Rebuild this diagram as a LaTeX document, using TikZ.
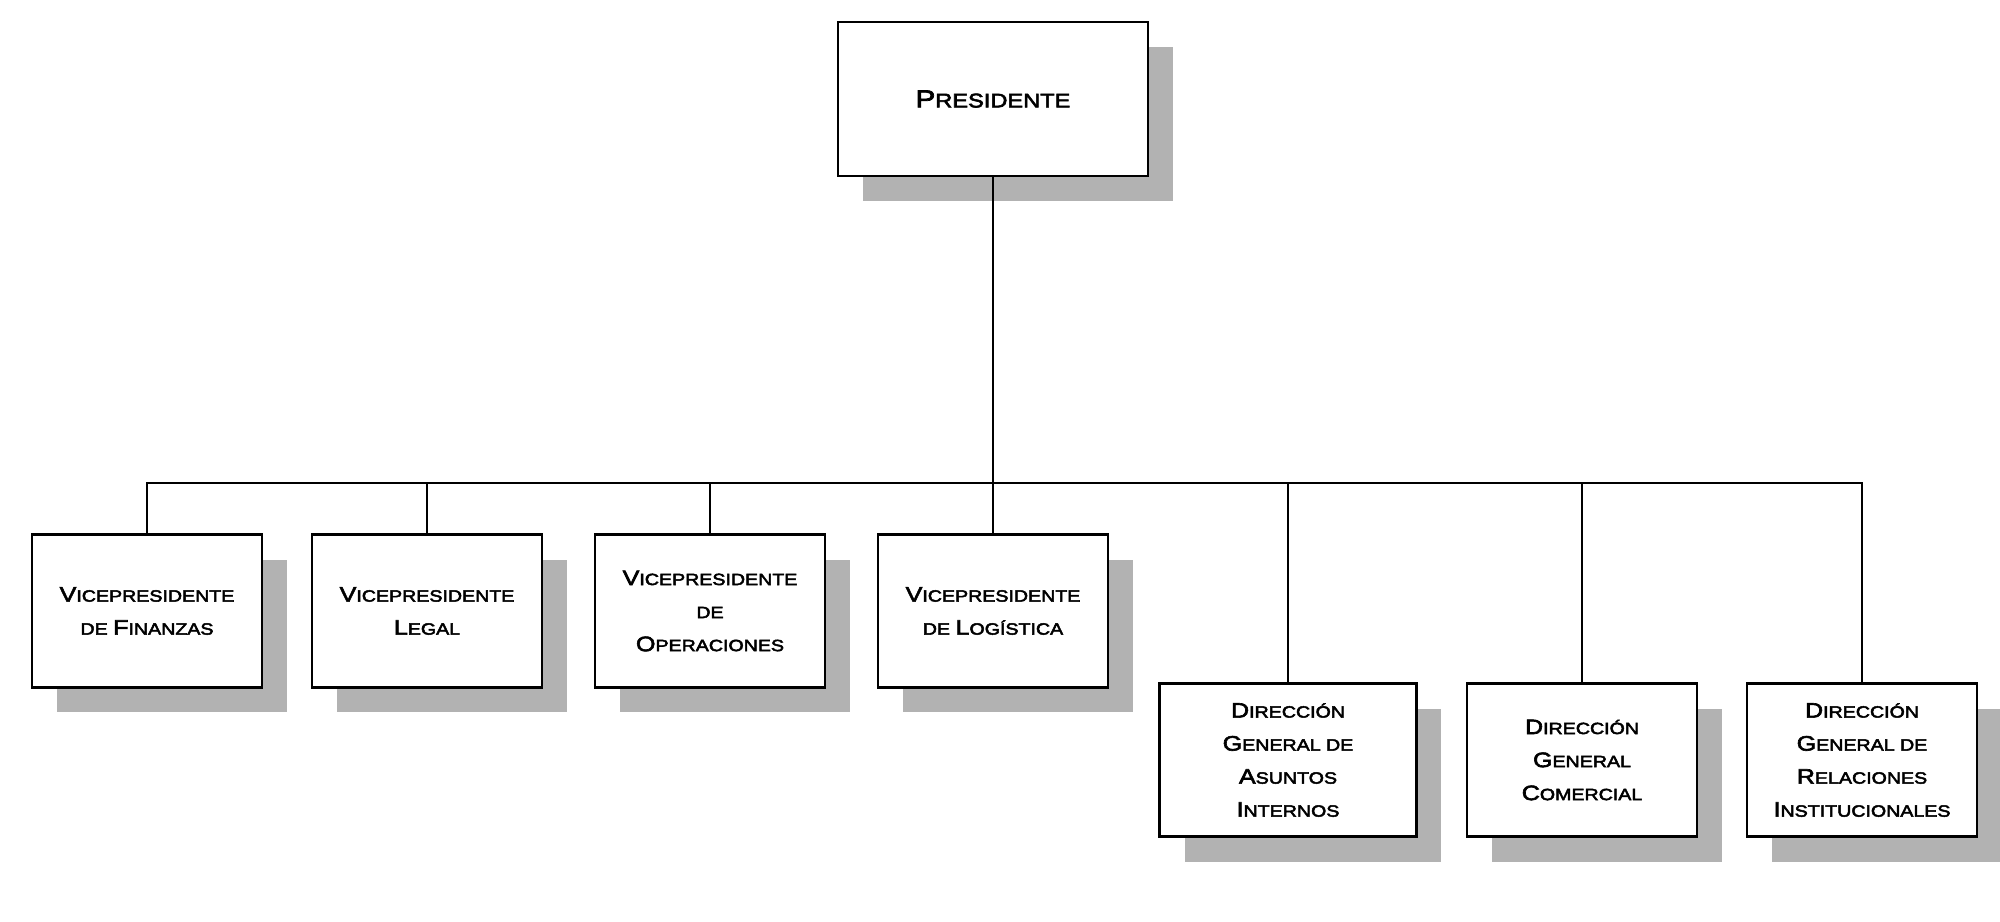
\documentclass[tikz,border=0pt]{standalone}
\usepackage{fontspec}
\setmainfont[FakeStretch=1.2,BoldFont={Liberation Sans},BoldFeatures={FakeBold=3}]{Liberation Sans}
\usetikzlibrary{shadows}
% versalita: primera letra grande, resto en mayusculas chicas
\newcommand\fsc[2]{{\fontsize{11.9}{18.8}\selectfont #1}#2}
\newcommand\psc[2]{{\fontsize{14}{20}\selectfont #1}#2}

\begin{document}
\begin{tikzpicture}[x=0.02cm,y=-0.02cm,line width=1.3pt,
  caja/.style={draw,fill=white,rectangle,inner sep=0pt,align=center,
    minimum width=4.6cm,minimum height=3.06cm,
    font=\bfseries\fontsize{9.3}{18.8}\selectfont,
    drop shadow={shadow xshift=0.5cm,shadow yshift=-0.5cm,fill=black!30,opacity=1}}]
\useasboundingbox (0,0) rectangle (2000,921);
\node[caja,minimum width=6.2cm,minimum height=3.08cm,font=\bfseries\fontsize{11.2}{20}\selectfont] (pres) at (993,99) {\psc{P}{RESIDENTE}};
\node[caja] (vfin) at (147,611) {\fsc{V}{ICEPRESIDENTE}\\DE \fsc{F}{INANZAS}};
\node[caja] (vleg) at (427,611) {\fsc{V}{ICEPRESIDENTE}\\\fsc{L}{EGAL}};
\node[caja] (vope) at (710,611) {\fsc{V}{ICEPRESIDENTE}\\DE\\\fsc{O}{PERACIONES}};
\node[caja] (vlog) at (993,611) {\fsc{V}{ICEPRESIDENTE}\\DE \fsc{L}{OGÍSTICA}};
\node[caja,minimum width=5.14cm] (dasu) at (1288,760) {\fsc{D}{IRECCIÓN}\\\fsc{G}{ENERAL} DE\\\fsc{A}{SUNTOS}\\\fsc{I}{NTERNOS}};
\node[caja] (dcom) at (1582,760) {\fsc{D}{IRECCIÓN}\\\fsc{G}{ENERAL}\\\fsc{C}{OMERCIAL}};
\node[caja] (drel) at (1862,760) {\fsc{D}{IRECCIÓN}\\\fsc{G}{ENERAL} DE\\\fsc{R}{ELACIONES}\\\fsc{I}{NSTITUCIONALES}};
\coordinate (bar) at (993,483);
\draw (pres) -- (vlog);
\draw (vfin.north) |- (bar) -| (drel.north);
\foreach \n in {vleg,vope,dasu,dcom}
  \draw (\n.north) -- (\n.north |- bar);
\end{tikzpicture}
\end{document}
